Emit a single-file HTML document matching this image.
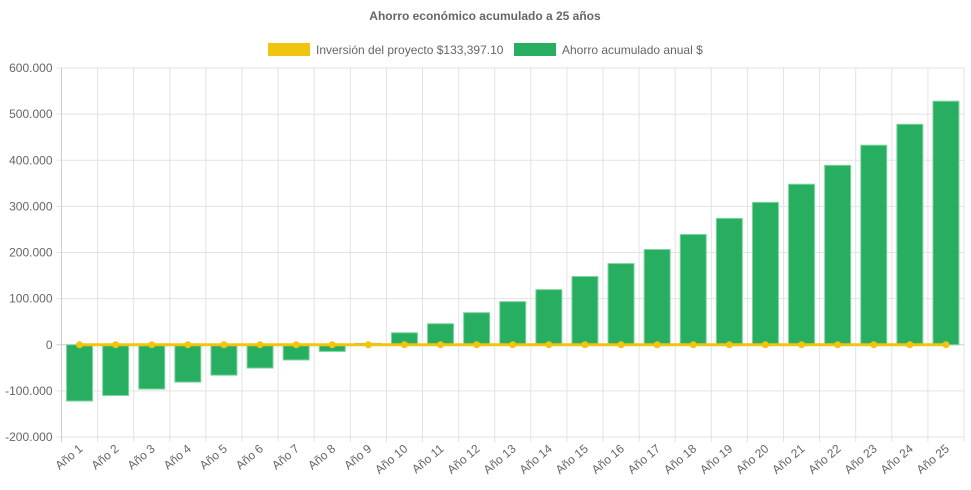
<!DOCTYPE html>
<html><head><meta charset="utf-8"><style>
body{margin:0;background:#fff;font-family:"Liberation Sans",Arial,sans-serif}
svg text{font-family:"Liberation Sans",Arial,sans-serif}
</style></head><body>
<svg id="c" width="971" height="485" xmlns="http://www.w3.org/2000/svg">
<text x="485" y="20" text-anchor="middle" font-size="12" font-weight="bold" fill="#666">Ahorro económico acumulado a 25 años</text>
<g>
<g><rect x="268" y="43" width="42" height="13" fill="#f1c40f"/><text x="316" y="54" font-size="12" fill="#666">Inversión del proyecto $133,397.10</text></g>
<g><rect x="514" y="43" width="42" height="13" fill="#27ae60"/><text x="562" y="54" font-size="12" fill="#666">Ahorro acumulado anual $</text></g>
</g>
<g id="grid"></g><g id="bars"></g><g id="line"></g><g id="labels"></g>
</svg>
<script>
const categories=[];for(let i=1;i<=25;i++)categories.push('Año '+i);
const savings=[-122000,-110000,-96000,-81000,-66000,-50500,-33000,-14500,3000,26000,45600,69600,93500,119500,148000,176000,206500,239000,274000,308700,348000,389000,432600,478000,528000];
const investment=[0,0,0,0,0,0,0,0,0,0,0,0,0,0,0,0,0,0,0,0,0,0,0,0,0];
const yTicks=[600000,500000,400000,300000,200000,100000,0,-100000,-200000];
const yTickLabels=['600.000','500.000','400.000','300.000','200.000','100.000','0','-100.000','-200.000'];
const NS='http://www.w3.org/2000/svg';
const L=61.5,R=964,T=68,B=437,yMin=-200000,yMax=600000;
const bw=(R-L)/categories.length;
const y=v=>B-(v-yMin)/(yMax-yMin)*(B-T);
const x=i=>L+bw*(i+0.5);
function mk(t,a,p){const e=document.createElementNS(NS,t);for(const k in a)e.setAttribute(k,a[k]);p.appendChild(e);return e;}
const g=document.getElementById('grid');
yTicks.forEach((v,i)=>{
 const ln=mk('line',{x1:L-5,x2:R,y1:y(v),y2:y(v),stroke:v===0?'#ccc':'#e3e3e3'},g);
 
 
 const t=mk('text',{x:L-9,y:y(v)+4,'text-anchor':'end','font-size':12,fill:'#666'},g);t.textContent=yTickLabels[i];
 
 
});
for(let i=0;i<=categories.length;i++){
 const xx=L+bw*i;
 const ln=mk('line',{x1:xx,x2:xx,y1:T,y2:B+5,stroke:i===0?'#ccc':'#e3e3e3'},g);
 
 
}
const gb=document.getElementById('bars');
savings.forEach((v,i)=>{
 const w=26,y0=y(0),yv=y(v);
 const r=mk('rect',{x:x(i)-w/2,y:Math.min(y0,yv),width:w,height:Math.abs(yv-y0),fill:'#27ae60',stroke:'#7ed6a0','stroke-width':1},gb);
 
 
});
const gl=document.getElementById('line');
const pl=mk('polyline',{points:investment.map((v,i)=>x(i)+','+y(v)).join(' '),fill:'none',stroke:'#f1c40f','stroke-width':3},gl);


investment.forEach((v,i)=>{
 const c=mk('circle',{cx:x(i),cy:y(v),r:3.5,fill:'#f1c40f'},gl);
 
 
});
const glb=document.getElementById('labels');
categories.forEach((c,i)=>{
 const t=mk('text',{x:x(i)+4,y:B+13,'text-anchor':'end','font-size':12,fill:'#666',transform:'rotate(-40 '+(x(i)+4)+' '+(B+13)+')'},glb);
 t.textContent=c;
 
 
});
</script>
</body></html>
